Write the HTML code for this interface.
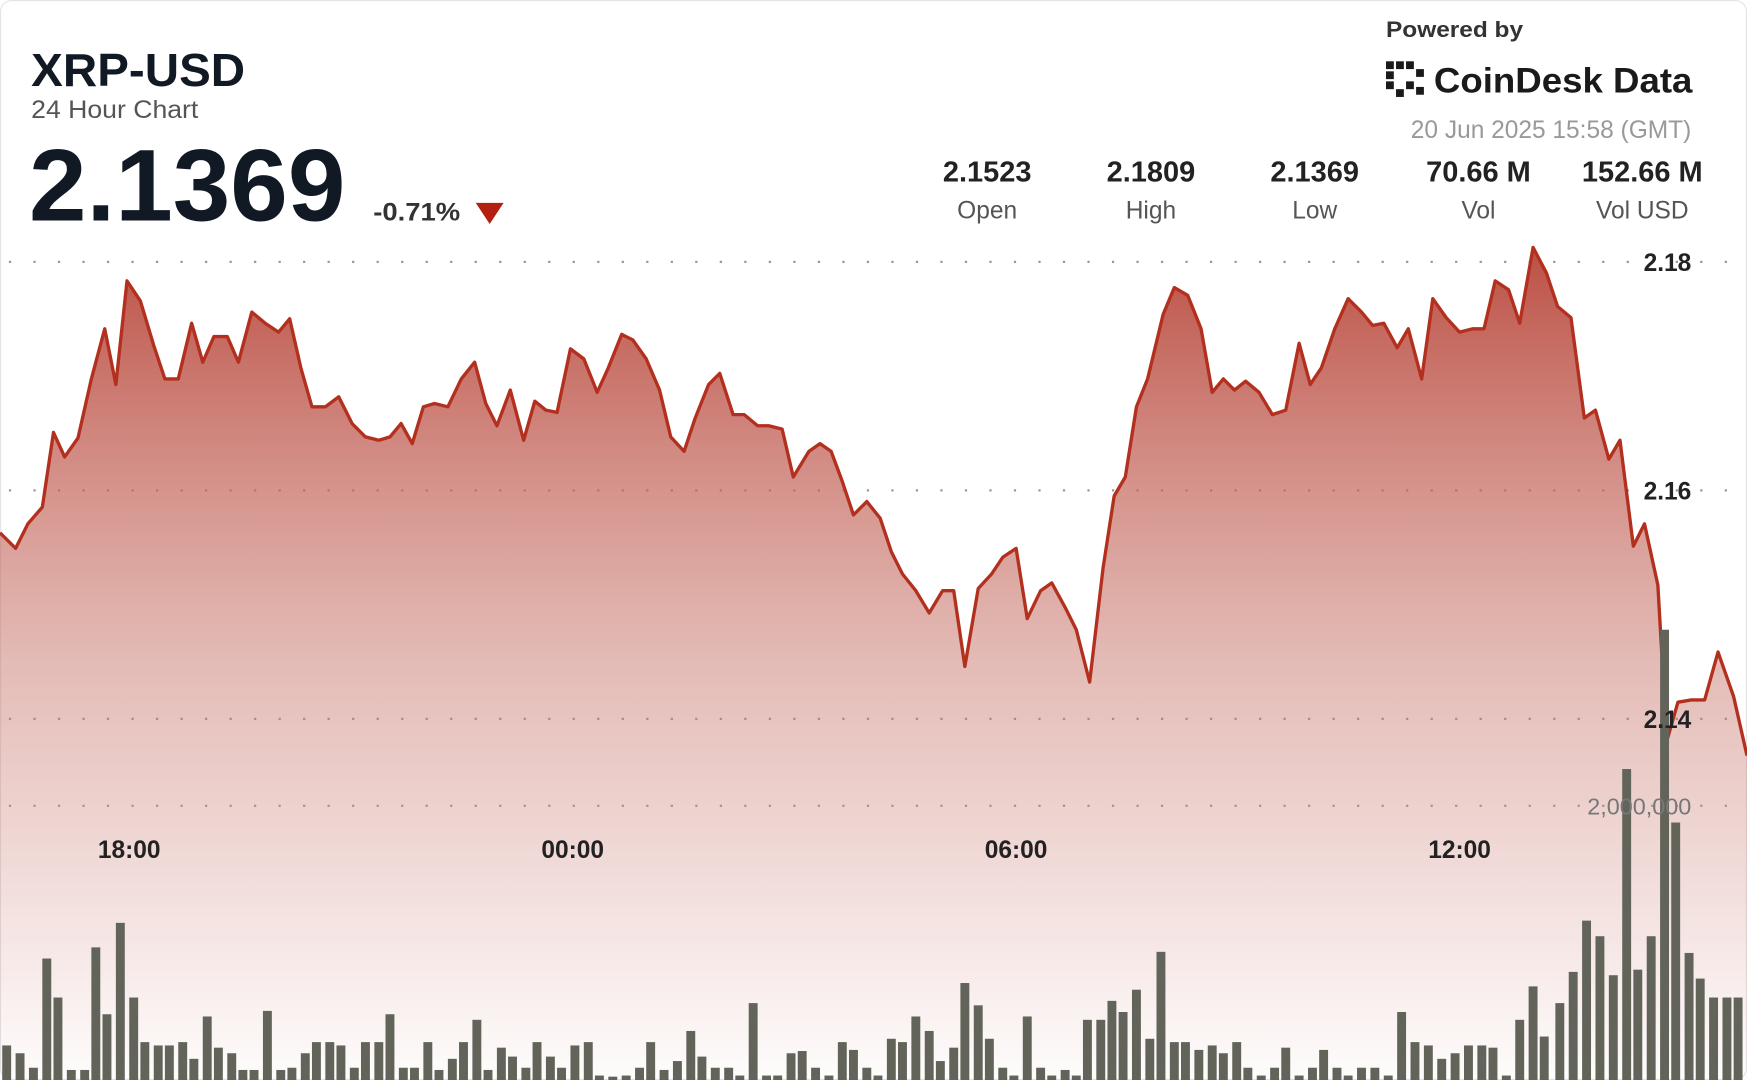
<!DOCTYPE html>
<html><head><meta charset="utf-8"><style>
html,body{margin:0;padding:0;background:#fff;width:1747px;height:1080px;overflow:hidden}
svg{display:block}
text{font-family:"Liberation Sans",sans-serif}
</style></head><body>
<svg width="1747" height="1080" viewBox="0 0 1568 969" preserveAspectRatio="none" xmlns="http://www.w3.org/2000/svg">
<defs>
<linearGradient id="g" x1="0" y1="220" x2="0" y2="969" gradientUnits="userSpaceOnUse">
<stop offset="0" stop-color="#b8463a" stop-opacity="0.95"/>
<stop offset="0.5" stop-color="#c9776d" stop-opacity="0.5"/>
<stop offset="1" stop-color="#c9776d" stop-opacity="0.02"/>
</linearGradient>
</defs>
<rect x="0.5" y="0.5" width="1567" height="968" rx="10" fill="#fff" stroke="#e4e4e4"/>
<g stroke="#999" stroke-width="2" stroke-dasharray="2 20">
<line x1="8" y1="235" x2="1555" y2="235"/>
<line x1="8" y1="440" x2="1555" y2="440"/>
<line x1="8" y1="645" x2="1555" y2="645"/>
<line x1="8" y1="723" x2="1555" y2="723"/>
</g>
<path fill="url(#g)" d="M0,969 L0,478 L14,492 L25,470 L38,455 L48,388 L58,410 L70,393 L82,340 L94,295 L104,345 L114,252 L126,270 L138,310 L148,340 L160,340 L172,290 L182,325 L192,302 L204,302 L214,325 L226,280 L238,290 L250,298 L260,286 L270,330 L280,365 L292,365 L304,356 L316,380 L328,392 L340,395 L350,392 L360,380 L370,398 L380,365 L390,362 L402,365 L414,340 L426,325 L436,362 L446,382 L458,350 L470,395 L480,360 L490,368 L500,370 L512,313 L524,322 L536,352 L546,330 L558,300 L568,305 L580,322 L592,350 L602,392 L614,405 L624,375 L636,345 L646,335 L658,372 L668,372 L680,382 L690,382 L702,385 L712,428 L726,405 L736,398 L746,405 L756,432 L766,462 L778,450 L790,465 L800,495 L810,515 L822,530 L834,550 L846,530 L856,530 L866,598 L878,528 L890,515 L900,500 L912,492 L922,555 L934,530 L944,523 L956,545 L966,565 L978,612 L990,510 L1000,445 L1010,428 L1020,365 L1030,340 L1044,282 L1054,258 L1066,265 L1078,295 L1088,352 L1098,340 L1108,350 L1118,342 L1130,352 L1142,372 L1154,368 L1166,308 L1176,345 L1186,330 L1198,295 L1210,268 L1222,280 L1232,292 L1242,290 L1254,312 L1264,295 L1276,340 L1286,268 L1298,285 L1310,298 L1322,295 L1332,295 L1342,252 L1354,260 L1364,290 L1376,222 L1388,245 L1398,275 L1410,285 L1422,375 L1432,368 L1444,412 L1454,395 L1466,490 L1476,470 L1488,525 L1496,665 L1506,630 L1518,628 L1530,628 L1542,585 L1556,625 L1568,678 L1568,969 Z"/>
<path fill="none" stroke="#b3301f" stroke-width="3" stroke-linejoin="round" d="M0,478 L14,492 L25,470 L38,455 L48,388 L58,410 L70,393 L82,340 L94,295 L104,345 L114,252 L126,270 L138,310 L148,340 L160,340 L172,290 L182,325 L192,302 L204,302 L214,325 L226,280 L238,290 L250,298 L260,286 L270,330 L280,365 L292,365 L304,356 L316,380 L328,392 L340,395 L350,392 L360,380 L370,398 L380,365 L390,362 L402,365 L414,340 L426,325 L436,362 L446,382 L458,350 L470,395 L480,360 L490,368 L500,370 L512,313 L524,322 L536,352 L546,330 L558,300 L568,305 L580,322 L592,350 L602,392 L614,405 L624,375 L636,345 L646,335 L658,372 L668,372 L680,382 L690,382 L702,385 L712,428 L726,405 L736,398 L746,405 L756,432 L766,462 L778,450 L790,465 L800,495 L810,515 L822,530 L834,550 L846,530 L856,530 L866,598 L878,528 L890,515 L900,500 L912,492 L922,555 L934,530 L944,523 L956,545 L966,565 L978,612 L990,510 L1000,445 L1010,428 L1020,365 L1030,340 L1044,282 L1054,258 L1066,265 L1078,295 L1088,352 L1098,340 L1108,350 L1118,342 L1130,352 L1142,372 L1154,368 L1166,308 L1176,345 L1186,330 L1198,295 L1210,268 L1222,280 L1232,292 L1242,290 L1254,312 L1264,295 L1276,340 L1286,268 L1298,285 L1310,298 L1322,295 L1332,295 L1342,252 L1354,260 L1364,290 L1376,222 L1388,245 L1398,275 L1410,285 L1422,375 L1432,368 L1444,412 L1454,395 L1466,490 L1476,470 L1488,525 L1496,665 L1506,630 L1518,628 L1530,628 L1542,585 L1556,625 L1568,678"/>
<g fill="#62645a">
<rect x="2" y="938" width="8" height="31"/><rect x="14" y="945" width="8" height="24"/><rect x="26" y="958" width="8" height="11"/><rect x="38" y="860" width="8" height="109"/><rect x="48" y="895" width="8" height="74"/><rect x="60" y="960" width="8" height="9"/><rect x="72" y="960" width="8" height="9"/><rect x="82" y="850" width="8" height="119"/><rect x="92" y="910" width="8" height="59"/><rect x="104" y="828" width="8" height="141"/><rect x="116" y="895" width="8" height="74"/><rect x="126" y="935" width="8" height="34"/><rect x="138" y="938" width="8" height="31"/><rect x="148" y="938" width="8" height="31"/><rect x="160" y="935" width="8" height="34"/><rect x="170" y="950" width="8" height="19"/><rect x="182" y="912" width="8" height="57"/><rect x="192" y="940" width="8" height="29"/><rect x="204" y="945" width="8" height="24"/><rect x="214" y="960" width="8" height="9"/><rect x="224" y="960" width="8" height="9"/><rect x="236" y="907" width="8" height="62"/><rect x="248" y="960" width="8" height="9"/><rect x="258" y="958" width="8" height="11"/><rect x="270" y="945" width="8" height="24"/><rect x="280" y="935" width="8" height="34"/><rect x="292" y="935" width="8" height="34"/><rect x="302" y="938" width="8" height="31"/><rect x="314" y="958" width="8" height="11"/><rect x="324" y="935" width="8" height="34"/><rect x="336" y="935" width="8" height="34"/><rect x="346" y="910" width="8" height="59"/><rect x="358" y="958" width="8" height="11"/><rect x="368" y="958" width="8" height="11"/><rect x="380" y="935" width="8" height="34"/><rect x="390" y="960" width="8" height="9"/><rect x="402" y="950" width="8" height="19"/><rect x="412" y="935" width="8" height="34"/><rect x="424" y="915" width="8" height="54"/><rect x="434" y="960" width="8" height="9"/><rect x="446" y="940" width="8" height="29"/><rect x="456" y="948" width="8" height="21"/><rect x="468" y="958" width="8" height="11"/><rect x="478" y="935" width="8" height="34"/><rect x="490" y="948" width="8" height="21"/><rect x="500" y="958" width="8" height="11"/><rect x="512" y="938" width="8" height="31"/><rect x="524" y="935" width="8" height="34"/><rect x="534" y="965" width="8" height="4"/><rect x="546" y="966" width="8" height="3"/><rect x="558" y="965" width="8" height="4"/><rect x="570" y="958" width="8" height="11"/><rect x="580" y="935" width="8" height="34"/><rect x="592" y="960" width="8" height="9"/><rect x="604" y="952" width="8" height="17"/><rect x="616" y="925" width="8" height="44"/><rect x="626" y="948" width="8" height="21"/><rect x="638" y="958" width="8" height="11"/><rect x="650" y="958" width="8" height="11"/><rect x="660" y="965" width="8" height="4"/><rect x="672" y="900" width="8" height="69"/><rect x="684" y="965" width="8" height="4"/><rect x="694" y="965" width="8" height="4"/><rect x="706" y="945" width="8" height="24"/><rect x="716" y="943" width="8" height="26"/><rect x="728" y="958" width="8" height="11"/><rect x="740" y="965" width="8" height="4"/><rect x="752" y="935" width="8" height="34"/><rect x="762" y="942" width="8" height="27"/><rect x="774" y="958" width="8" height="11"/><rect x="784" y="965" width="8" height="4"/><rect x="796" y="932" width="8" height="37"/><rect x="806" y="935" width="8" height="34"/><rect x="818" y="912" width="8" height="57"/><rect x="830" y="925" width="8" height="44"/><rect x="840" y="952" width="8" height="17"/><rect x="852" y="940" width="8" height="29"/><rect x="862" y="882" width="8" height="87"/><rect x="874" y="902" width="8" height="67"/><rect x="884" y="932" width="8" height="37"/><rect x="896" y="958" width="8" height="11"/><rect x="906" y="965" width="8" height="4"/><rect x="918" y="912" width="8" height="57"/><rect x="930" y="958" width="8" height="11"/><rect x="940" y="965" width="8" height="4"/><rect x="952" y="960" width="8" height="9"/><rect x="962" y="965" width="8" height="4"/><rect x="972" y="915" width="8" height="54"/><rect x="984" y="915" width="8" height="54"/><rect x="994" y="898" width="8" height="71"/><rect x="1004" y="908" width="8" height="61"/><rect x="1016" y="888" width="8" height="81"/><rect x="1028" y="932" width="8" height="37"/><rect x="1038" y="854" width="8" height="115"/><rect x="1050" y="935" width="8" height="34"/><rect x="1060" y="935" width="8" height="34"/><rect x="1072" y="942" width="8" height="27"/><rect x="1084" y="938" width="8" height="31"/><rect x="1094" y="945" width="8" height="24"/><rect x="1106" y="935" width="8" height="34"/><rect x="1116" y="958" width="8" height="11"/><rect x="1128" y="965" width="8" height="4"/><rect x="1140" y="958" width="8" height="11"/><rect x="1150" y="940" width="8" height="29"/><rect x="1162" y="965" width="8" height="4"/><rect x="1174" y="958" width="8" height="11"/><rect x="1184" y="942" width="8" height="27"/><rect x="1196" y="958" width="8" height="11"/><rect x="1206" y="965" width="8" height="4"/><rect x="1218" y="958" width="8" height="11"/><rect x="1230" y="958" width="8" height="11"/><rect x="1242" y="965" width="8" height="4"/><rect x="1254" y="908" width="8" height="61"/><rect x="1266" y="935" width="8" height="34"/><rect x="1278" y="938" width="8" height="31"/><rect x="1290" y="950" width="8" height="19"/><rect x="1302" y="945" width="8" height="24"/><rect x="1314" y="938" width="8" height="31"/><rect x="1326" y="938" width="8" height="31"/><rect x="1336" y="940" width="8" height="29"/><rect x="1348" y="965" width="8" height="4"/><rect x="1360" y="915" width="8" height="54"/><rect x="1372" y="885" width="8" height="84"/><rect x="1382" y="930" width="8" height="39"/><rect x="1396" y="900" width="8" height="69"/><rect x="1408" y="872" width="8" height="97"/><rect x="1420" y="826" width="8" height="143"/><rect x="1432" y="840" width="8" height="129"/><rect x="1444" y="875" width="8" height="94"/><rect x="1456" y="690" width="8" height="279"/><rect x="1466" y="870" width="8" height="99"/><rect x="1478" y="840" width="8" height="129"/><rect x="1490" y="565" width="8" height="404"/><rect x="1500" y="738" width="8" height="231"/><rect x="1512" y="855" width="8" height="114"/><rect x="1522" y="878" width="8" height="91"/><rect x="1534" y="895" width="8" height="74"/><rect x="1546" y="895" width="8" height="74"/><rect x="1556" y="895" width="8" height="74"/>
</g>
<g fill="#222" font-weight="bold" font-size="22" text-anchor="end">
<text x="1518" y="243">2.18</text>
<text x="1518" y="448">2.16</text>
<text x="1518" y="653">2.14</text>
</g>
<text x="1518" y="731" text-anchor="end" font-size="21" fill="#777">2,000,000</text>
<g fill="#222" font-weight="bold" font-size="22" text-anchor="middle">
<text x="116" y="770">18:00</text><text x="514" y="770">00:00</text>
<text x="912" y="770">06:00</text><text x="1310" y="770">12:00</text>
</g>
<text x="28" y="77" font-size="42" font-weight="bold" fill="#111a24" textLength="192" lengthAdjust="spacingAndGlyphs">XRP-USD</text>
<text x="28" y="106" font-size="22" fill="#555" textLength="150" lengthAdjust="spacingAndGlyphs">24 Hour Chart</text>
<text x="26" y="198" font-size="92" font-weight="bold" fill="#111a24" textLength="284" lengthAdjust="spacingAndGlyphs">2.1369</text>
<text x="335" y="198" font-size="22" font-weight="bold" fill="#333" textLength="78" lengthAdjust="spacingAndGlyphs">-0.71%</text>
<path d="M427,182 L452,182 L439.5,201 Z" fill="#b3200f"/>
<g text-anchor="middle">
<g font-size="26" font-weight="bold" fill="#222">
<text x="886" y="163">2.1523</text><text x="1033" y="163">2.1809</text><text x="1180" y="163">2.1369</text><text x="1327" y="163">70.66 M</text><text x="1474" y="163">152.66 M</text>
</g>
<g font-size="22" fill="#555">
<text x="886" y="196">Open</text><text x="1033" y="196">High</text><text x="1180" y="196">Low</text><text x="1327" y="196">Vol</text><text x="1474" y="196">Vol USD</text>
</g>
</g>
<text x="1244" y="33" font-size="20" font-weight="bold" fill="#333" textLength="123" lengthAdjust="spacingAndGlyphs">Powered by</text>
<g fill="#1a1a1a">
<rect x="1244" y="55" width="7" height="7"/><rect x="1253" y="55" width="7" height="7"/><rect x="1262" y="55" width="7" height="7"/>
<rect x="1244" y="64" width="7" height="7"/><rect x="1271" y="62" width="7" height="7"/>
<rect x="1244" y="73" width="7" height="7"/><rect x="1262" y="73" width="7" height="7"/>
<rect x="1253" y="80" width="7" height="7"/><rect x="1271" y="78" width="7" height="7"/>
</g>
<text x="1287" y="83" font-size="32" font-weight="bold" fill="#1a1a1a" textLength="232" lengthAdjust="spacingAndGlyphs">CoinDesk Data</text>
<text x="1518" y="124" font-size="22" fill="#999" text-anchor="end">20 Jun 2025 15:58 (GMT)</text>
</svg>
</body></html>
